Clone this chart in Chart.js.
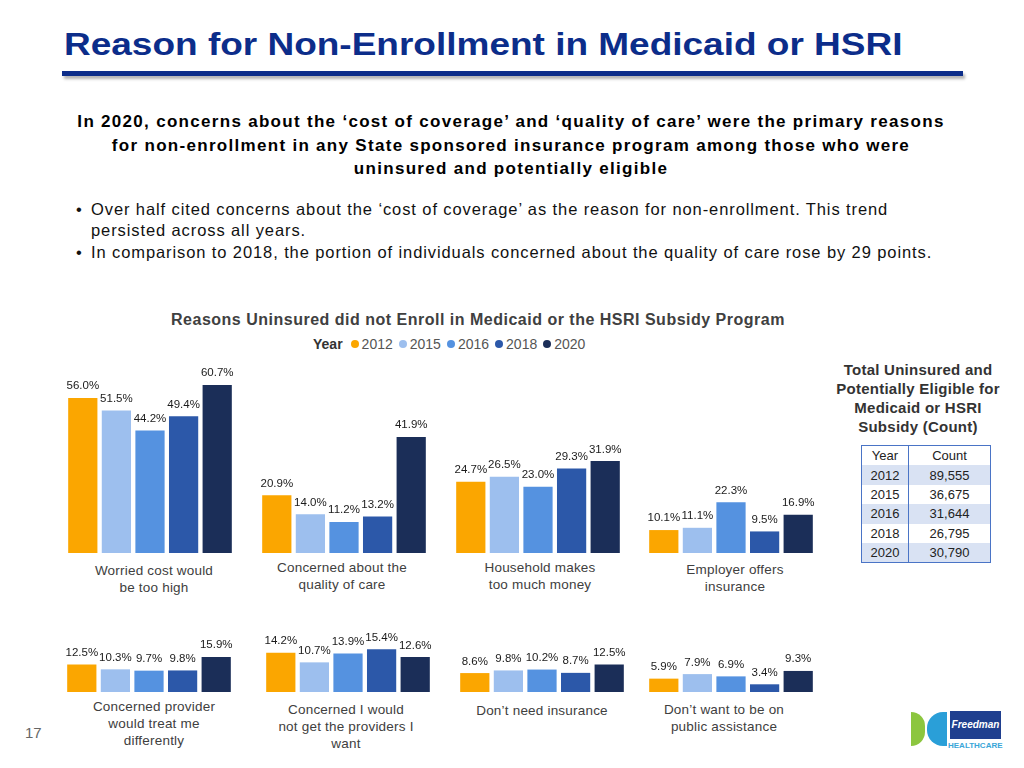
<!DOCTYPE html>
<html lang="en">
<head>
<meta charset="UTF-8">
<title>Reason for Non-Enrollment in Medicaid or HSRI</title>
<script src="https://cdn.jsdelivr.net/npm/chart.js"></script>
<style>
  body { margin: 0; width: 1024px; height: 768px; position: relative; overflow: hidden; background: #fff; font-family: "Liberation Sans", Arial, sans-serif; }
  .abs { position: absolute; }
  #title { left: 64px; top: 28px; font-weight: bold; font-size: 32px; line-height: 32px; color: #0c2d8a; white-space: nowrap; transform-origin: 0 0; }
  #rule { left: 62px; top: 71px; width: 901px; height: 5px; background: #0c2d8a; box-shadow: 2px 3px 3px rgba(0,0,0,0.3); }
  #lead { left: 30px; width: 962px; top: 110px; text-align: center; font-weight: bold; font-size: 17px; letter-spacing: 1.3px; line-height: 23.5px; color: #000; }
  .bullet { left: 76px; font-size: 16.5px; letter-spacing: 0.9px; line-height: 21.5px; color: #111; white-space: nowrap; }
  .bullet span { display: inline-block; width: 15px; }
  #chartTitle { left: 80px; width: 796px; top: 311px; text-align: center; font-weight: bold; font-size: 16px; letter-spacing: 0.5px; color: #404040; }
  #legend { left: 313px; top: 336px; display: flex; align-items: center; font-size: 14px; color: #555; white-space: nowrap; }
  #legend b { color: #333; margin-right: 8px; }
  #legend i { display: inline-block; width: 8px; height: 8px; border-radius: 50%; margin: 0 3px 0 0; }
  #legend em { font-style: normal; margin-right: 6px; }
  canvas { position: absolute; }
  .cat { font-size: 13.5px; letter-spacing: 0.2px; line-height: 17px; color: #404040; text-align: center; width: 190px; }
  #tblHead { left: 828px; width: 180px; top: 360px; text-align: center; font-weight: bold; font-size: 15px; letter-spacing: 0.25px; line-height: 19px; color: #333; }
  #tbl { left: 861px; top: 445px; border-collapse: collapse; border: 1.5px solid #4a74c6; font-size: 13px; color: #222; }
  #tbl td { height: 19.4px; padding: 0; text-align: center; line-height: 19px; }
  #tbl td:first-child { width: 46px; border-right: 1.5px solid #4a74c6; }
  #tbl td:last-child { width: 81px; }
  #tbl tr.shade td { background: #d9e2f3; }
  #page { left: 25px; top: 724px; font-size: 15px; color: #666; }
</style>
</head>
<body>
<div id="title" class="abs">Reason for Non-Enrollment in Medicaid or HSRI</div>
<div id="rule" class="abs"></div>
<div id="lead" class="abs">In 2020, concerns about the ‘cost of coverage’ and ‘quality of care’ were the primary reasons<br>for non-enrollment in any State sponsored insurance program among those who were<br>uninsured and potentially eligible</div>
<div class="abs bullet" style="top:199px"><span>•</span>Over half cited concerns about the ‘cost of coverage’ as the reason for non-enrollment. This trend</div>
<div class="abs bullet" style="top:220px"><span></span>persisted across all years.</div>
<div class="abs bullet" style="top:242px"><span>•</span>In comparison to 2018, the portion of individuals concerned about the quality of care rose by 29 points.</div>
<div id="chartTitle" class="abs">Reasons Uninsured did not Enroll in Medicaid or the HSRI Subsidy Program</div>
<div id="legend" class="abs"><b>Year</b></div>
<div id="tblHead" class="abs">Total Uninsured and<br>Potentially Eligible for<br>Medicaid or HSRI<br>Subsidy (Count)</div>
<table id="tbl" class="abs"></table>
<div id="page" class="abs">17</div>
<div class="abs" style="left:911px;top:712px;width:14px;height:34px;background:#8cc63f;border-radius:0 18px 18px 0;"></div>
<div class="abs" style="left:927px;top:712px;width:20px;height:34px;background:#2a9fd8;border-radius:16px 0 0 16px;"></div>
<div class="abs" style="left:950px;top:711px;width:51px;height:28px;background:#1f3f8f;color:#fff;font-size:10px;font-weight:bold;font-style:italic;text-align:center;line-height:28px;">Freedman</div>
<div class="abs" style="left:948px;top:741px;font-size:8px;font-weight:bold;color:#3aa6d8;">HEALTHCARE</div>

<script>
// ---- data ----
const years = ['2012', '2015', '2016', '2018', '2020'];
const reasons = [
  ['Worried cost would', 'be too high'],
  ['Concerned about the', 'quality of care'],
  ['Household makes', 'too much money'],
  ['Employer offers', 'insurance'],
  ['Concerned provider', 'would treat me', 'differently'],
  ['Concerned I would', 'not get the providers I', 'want'],
  ["Don’t need insurance"],
  ["Don’t want to be on", 'public assistance']
];
const v2012 = [56.0, 20.9, 24.7, 10.1, 12.5, 14.2, 8.6, 5.9];
const v2015 = [51.5, 14.0, 26.5, 11.1, 10.3, 10.7, 9.8, 7.9];
const v2016 = [44.2, 11.2, 23.0, 22.3, 9.7, 13.9, 10.2, 6.9];
const v2018 = [49.4, 13.2, 29.3, 9.5, 9.8, 15.4, 8.7, 3.4];
const v2020 = [60.7, 41.9, 31.9, 16.9, 15.9, 12.6, 12.5, 9.3];
const counts = ['89,555', '36,675', '31,644', '26,795', '30,790'];

// ---- look ----
const colors = ['#fba600', '#9dbfee', '#5592e0', '#2c58a9', '#1b2e58'];
const seriesByYear = [v2012, v2015, v2016, v2018, v2020];

// each small chart on the slide has its own value scale
const chartLeft = [56, 250, 444, 637, 55, 254, 448, 637];
const chartTop = [360, 360, 360, 360, 615, 615, 615, 615];
const chartHeight = [193, 193, 193, 193, 77, 77, 77, 77];
const yMax = [69.7, 69.7, 67, 85, 35, 27.8, 35, 34];
const catCenter = [154, 342, 540, 735, 154, 346, 542, 724];
const catTop = [562, 559, 559, 561, 698, 701, 702, 701];

// the slide heading runs to x=902; stretch the glyphs to that width
const title = document.getElementById('title');
title.style.transform = 'scaleX(' + (838 / title.scrollWidth) + ')';

const valueLabels = {
  id: 'valueLabels',
  afterDatasetsDraw(chart) {
    const c = chart.ctx;
    c.save();
    c.font = '11.5px "Liberation Sans", Arial, sans-serif';
    c.fillStyle = '#1a1a1a';
    c.textAlign = 'center';
    c.textBaseline = 'bottom';
    chart.data.datasets.forEach((ds, i) => {
      chart.getDatasetMeta(i).data.forEach((bar, j) => {
        c.fillText(ds.data[j].toFixed(1) + '%', bar.x, bar.y - 6);
      });
    });
    c.restore();
  }
};

reasons.forEach((lines, k) => {
  const cv = document.createElement('canvas');
  cv.width = 188;
  cv.height = chartHeight[k];
  cv.style.left = chartLeft[k] + 'px';
  cv.style.top = chartTop[k] + 'px';
  document.body.appendChild(cv);

  new Chart(cv, {
    type: 'bar',
    data: {
      labels: [lines.join(' ')],
      datasets: years.map((y, i) => ({
        label: y,
        data: [seriesByYear[i][k]],
        backgroundColor: colors[i],
        borderWidth: 0
      }))
    },
    options: {
      responsive: false,
      animation: false,
      layout: { padding: { left: 10, right: 10, top: 0, bottom: 0 } },
      datasets: { bar: { categoryPercentage: 1, barPercentage: 0.87 } },
      plugins: { legend: { display: false }, tooltip: { enabled: false } },
      scales: {
        x: { display: false },
        y: { display: false, min: 0, max: yMax[k] }
      }
    },
    plugins: [valueLabels]
  });

  const lab = document.createElement('div');
  lab.className = 'abs cat';
  lab.style.left = (catCenter[k] - 95) + 'px';
  lab.style.top = catTop[k] + 'px';
  lab.innerHTML = lines.join('<br>');
  document.body.appendChild(lab);
});

// legend
const legend = document.getElementById('legend');
years.forEach((y, i) => {
  const dot = document.createElement('i');
  dot.style.background = colors[i];
  const t = document.createElement('em');
  t.textContent = y;
  legend.appendChild(dot);
  legend.appendChild(t);
});

// count table
const tbl = document.getElementById('tbl');
let html = '<tr><td>Year</td><td>Count</td></tr>';
years.forEach((y, i) => {
  html += '<tr' + (i % 2 === 0 ? ' class="shade"' : '') + '><td>' + y + '</td><td>' + counts[i] + '</td></tr>';
});
tbl.innerHTML = html;
</script>
</body>
</html>
